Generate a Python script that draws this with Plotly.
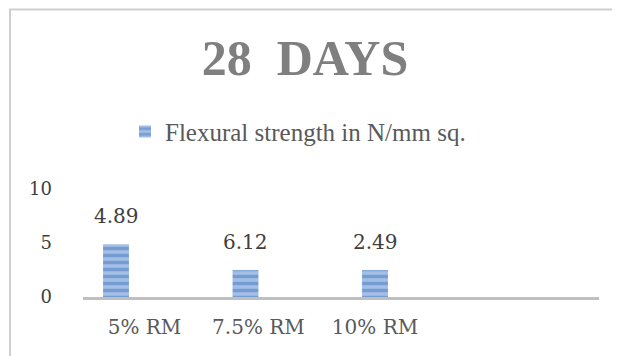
import plotly.graph_objects as go

# ---- data ----
categories = ["5% RM", "7.5% RM", "10% RM"]
bar_values = [4.89, 2.49, 2.49]          # bar heights as drawn
label_texts = ["4.89", "6.12", "2.49"]   # data labels as printed
series_name = "Flexural strength in N/mm sq."
title_text = "28\u00a0 DAYS"
y_ticks = [0, 5, 10]

x_pos = list(range(len(categories)))
tick_pos = [0.22, 1.1, 2.0]

SERIF = "Liberation Serif, Times New Roman, serif"
WIDE = "DejaVu Serif, Georgia, serif"

# page has an 8px body margin, so the figure is 8px smaller
W, H = 612, 348
L, R, T, B = 75, 21, 181, 59
PW, PH = W - L - R, H - T - B

fig = go.Figure()
fig.add_trace(go.Bar(
    x=x_pos, y=bar_values, name=series_name, width=0.2,
    marker=dict(
        color="#a3bfe6",
        line=dict(width=0),
        pattern=dict(shape="-", fgcolor="#4a7cc0", bgcolor="#a3bfe6",
                     size=7, solidity=0.5),
    ),
    showlegend=True,
    hoverinfo="skip",
))

for xv, yv, t in zip(x_pos, bar_values, label_texts):
    fig.add_annotation(x=xv, y=yv, text=t, showarrow=False,
                       yanchor="middle", yshift=28,
                       font=dict(family=WIDE, size=20, color="#404040"))

fig.update_layout(
    width=W, height=H,
    margin=dict(l=L, r=R, t=T, b=B),
    paper_bgcolor="white", plot_bgcolor="white",
    title=dict(text="<b>" + title_text + "</b>", x=297 / W, xref="container",
               xanchor="center", y=1 - 49 / H, yref="container",
               yanchor="middle",
               font=dict(family=SERIF, size=50, color="#7f7f7f")),
    showlegend=True,
    legend=dict(orientation="h", x=(117 - L) / PW, xanchor="left", y=1.53,
                yanchor="middle", bgcolor="rgba(0,0,0,0)",
                font=dict(family=SERIF, size=25, color="#595959")),
    xaxis=dict(range=[-0.2548, 3.7297], tickvals=tick_pos, ticktext=categories,
               showgrid=False, zeroline=False, showline=True,
               linecolor="#bfbfbf", linewidth=3, ticks="",
               tickfont=dict(family=WIDE, size=20, color="#595959"),
               ticklabelstandoff=10, fixedrange=True),
    yaxis=dict(range=[0, 10], tickvals=y_ticks, showgrid=False,
               zeroline=False, showline=False, ticks="",
               tickfont=dict(family=WIDE, size=18, color="#404040"),
               ticklabelstandoff=30, fixedrange=True),
    shapes=[dict(type="rect", xref="paper", yref="paper",
                 x0=(2 - L) / PW, x1=(700 - L) / PW,
                 y0=-4, y1=(PH + T - 1.5) / PH,
                 line=dict(color="#cfcfcf", width=2),
                 fillcolor="rgba(0,0,0,0)", layer="below")],
)

fig.write_html("out.html")
